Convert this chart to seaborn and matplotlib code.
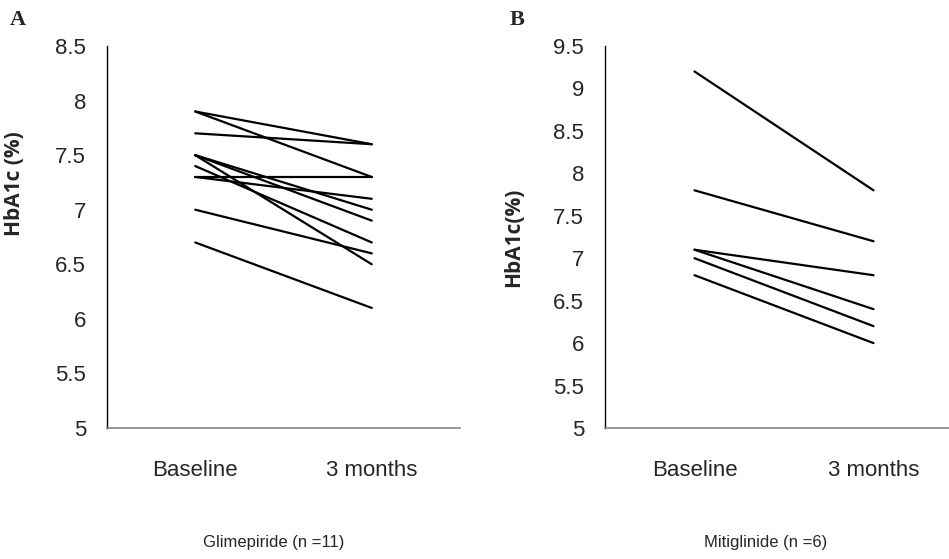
import pandas as pd
import seaborn as sns
import matplotlib.pyplot as plt

# ------------------------------
# Data (HbA1c %, baseline -> 3 months)
# ------------------------------
timepoints = ["Baseline", "3 months"]

glim_baseline = [7.9, 7.9, 7.7, 7.5, 7.5, 7.5, 7.4, 7.3, 7.3, 7.0, 6.7]
glim_3months = [7.6, 7.3, 7.6, 7.0, 6.9, 6.5, 6.7, 7.3, 7.1, 6.6, 6.1]

miti_baseline = [9.2, 7.8, 7.1, 7.1, 7.0, 6.8]
miti_3months = [7.8, 7.2, 6.8, 6.4, 6.2, 6.0]


def to_long(base, after):
    rows = []
    for i, (b, a) in enumerate(zip(base, after)):
        rows.append({"subject": i, "time": timepoints[0], "hba1c": b})
        rows.append({"subject": i, "time": timepoints[1], "hba1c": a})
    return pd.DataFrame(rows)


df_glim = to_long(glim_baseline, glim_3months)
df_miti = to_long(miti_baseline, miti_3months)

sns.set_theme(style="white")
plt.rcParams["font.family"] = ["Liberation Sans", "DejaVu Sans"]

fig = plt.figure(figsize=(9.49, 5.59), dpi=100)
W, H = 949, 559

ax1 = fig.add_axes([107 / W, 1 - 428 / H, 353 / W, 382 / H])
ax2 = fig.add_axes([605 / W, 1 - 428 / H, 358 / W, 382 / H])

panels = [
    (ax1, df_glim, (5, 8.5), "HbA1c (%)", (-0.232, 0.64)),
    (ax2, df_miti, (5, 9.5), "HbA1c(%)", (-0.225, 0.5)),
]

for ax, df, ylim, ylab, labpos in panels:
    sns.lineplot(data=df, x="time", y="hba1c", units="subject",
                 estimator=None, color="black", linewidth=1.6,
                 sort=False, ax=ax)
    ax.set_xlim(-0.5, 1.5)
    ax.set_ylim(*ylim)
    ticks = [ylim[0] + 0.5 * k for k in range(int((ylim[1] - ylim[0]) / 0.5) + 1)]
    ax.set_yticks(ticks)
    ax.set_yticklabels([f"{t:g}" for t in ticks])
    ax.set_xlabel("")
    ax.set_ylabel(ylab, fontsize=15, fontweight="bold",
                  family=["Open Sans", "DejaVu Sans"])
    ax.yaxis.set_label_coords(*labpos)
    ax.tick_params(axis="y", length=0, pad=15, labelsize=16)
    ax.tick_params(axis="x", length=0, pad=23, labelsize=16)
    sns.despine(ax=ax)
    ax.spines["left"].set_color("black")
    ax.spines["left"].set_linewidth(1.0)
    ax.spines["bottom"].set_color("#888888")
    ax.spines["bottom"].set_linewidth(1.2)

fig.text(274 / W, 1 - 543 / H, "Glimepiride (n =11)", ha="center", va="center", fontsize=12)
fig.text(766 / W, 1 - 543 / H, "Mitiglinide (n =6)", ha="center", va="center", fontsize=12)

fig.text(18 / W, 1 - 20 / H, "A", ha="center", va="center", fontsize=16,
         fontweight="bold", family=["Liberation Serif", "DejaVu Serif"])
fig.text(517 / W, 1 - 20 / H, "B", ha="center", va="center", fontsize=16,
         fontweight="bold", family=["Liberation Serif", "DejaVu Serif"])

fig.savefig("out.png", dpi=100)
